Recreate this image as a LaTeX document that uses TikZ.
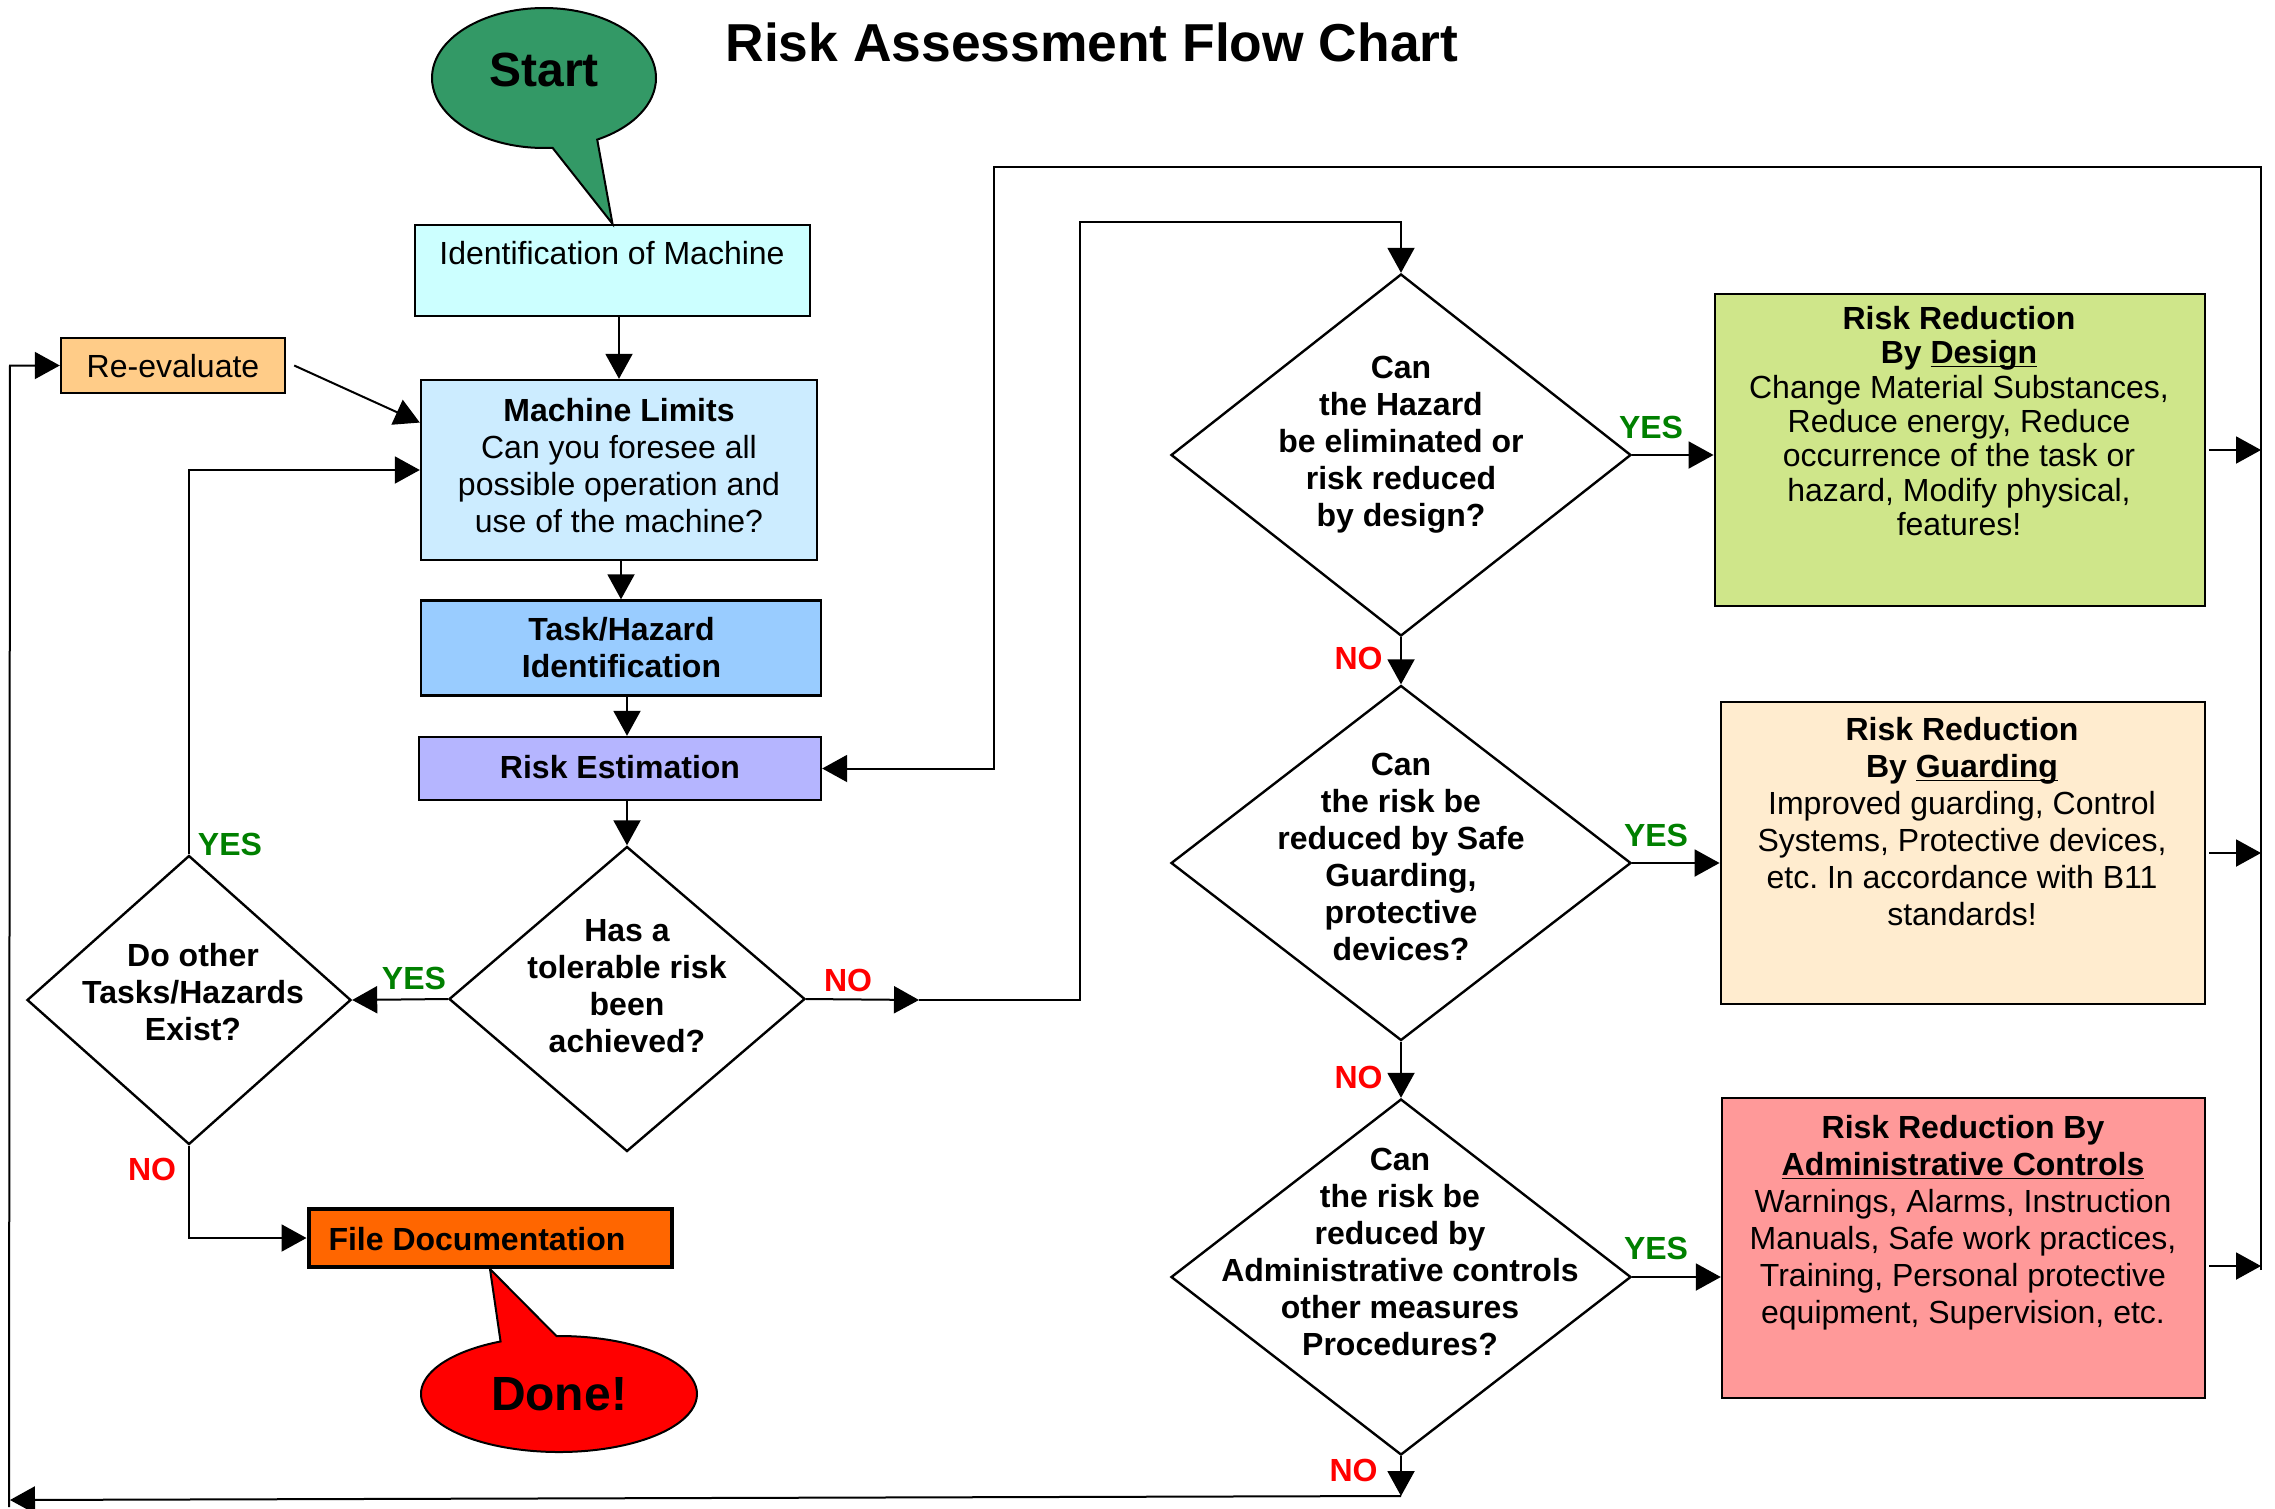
\documentclass[tikz,border=0pt]{standalone}
\usepackage{fontspec}
\setmainfont{Liberation Sans}
\usetikzlibrary{arrows.meta,shapes.geometric,shapes.callouts,calc}
\definecolor{startgreen}{RGB}{51,153,102}
\definecolor{identc}{RGB}{204,255,255}
\definecolor{mlc}{RGB}{204,236,255}
\definecolor{taskc}{RGB}{153,204,255}
\definecolor{rec}{RGB}{181,181,255}
\definecolor{reevalc}{RGB}{255,204,136}
\definecolor{filec}{RGB}{255,102,0}
\definecolor{designc}{RGB}{207,230,138}
\definecolor{guardc}{RGB}{255,236,207}
\definecolor{adminc}{RGB}{255,153,153}
\definecolor{yesgreen}{RGB}{0,128,0}
\newcommand{\myul}[1]{\underline{\smash{#1}}}
\frenchspacing
\begin{document}
\frenchspacing
\begin{tikzpicture}[x=0.5pt,y=-0.5pt,
  arr/.style={-{Triangle[length=12.5pt,width=13.5pt]},line width=1pt},
  box/.style={draw,line width=1.2pt,inner sep=0pt},
  dia/.style={draw,diamond,line width=1.2pt,inner sep=0pt},
  txt/.style={align=center,font=\fontsize{16}{18.5}\selectfont},
  btxt/.style={align=center,font=\fontsize{16}{18.5}\selectfont\bfseries},
  yeslab/.style={text=yesgreen,font=\fontsize{16}{18}\selectfont\bfseries},
  nolab/.style={text=red,font=\fontsize{16}{18}\selectfont\bfseries},
  big/.style={font=\fontsize{24}{26}\selectfont\bfseries}
]
\useasboundingbox (0,0) rectangle (2275,1509);

% title
\node[font=\fontsize{26.7}{30}\selectfont\bfseries] (title) at (1092,42) {Risk Assessment Flow Chart};

% left column boxes
\node[box,fill=identc,minimum width=197.5pt,minimum height=45.5pt] (ident) at (612.5,270.5) {};
\node[txt] (identt) at (612,253) {Identification of Machine};
\node[box,fill=mlc,minimum width=198pt,minimum height=90pt] (ml) at (619,470) {};
\node[txt] (mlt) at (619,466) {\textbf{Machine Limits}\\Can you foresee all\\possible operation and\\use of the machine?};
\node[box,fill=taskc,minimum width=200pt,minimum height=47.5pt] (task) at (621,648) {};
\node[btxt] (taskt) at (621.5,647.5) {Task/Hazard\\Identification};
\node[box,fill=rec,minimum width=201pt,minimum height=31.5pt] (riskest) at (620,768.5) {};
\node[btxt] (riskestt) at (620,767) {Risk Estimation};
\node[box,fill=reevalc,minimum width=112pt,minimum height=27.5pt] (reeval) at (173,365.5) {};
\node[txt] (reevalt) at (173,366) {Re-evaluate};
\node[box,fill=filec,line width=2pt,minimum width=181.5pt,minimum height=29pt] (fd) at (490,1238) {};
\node[btxt] (fdt) at (477,1239) {File Documentation};

% start / done callouts
\node[ellipse callout,draw,fill=startgreen,line width=1pt,inner sep=0pt,
      minimum width=112pt,minimum height=70pt,
      callout absolute pointer={(ident.north)},callout pointer arc=24] (start) at (544,78) {};
\node[big] (startt) at (544,70) {Start};
\node[ellipse callout,draw,fill=red,line width=1pt,inner sep=0pt,
      minimum width=138pt,minimum height=58pt,
      callout absolute pointer={(fd.south)},callout pointer arc=24] (done) at (559,1394) {};
\node[big] (donet) at (559,1394) {Done!};

% diamonds
\node[dia,minimum width=178pt,minimum height=152.5pt] (d0) at (627,999) {};
\node[btxt] (d0t) at (627,986) {Has a\\tolerable risk\\been\\achieved?};
\node[dia,minimum width=162pt,minimum height=144.5pt] (d5) at (189,1000) {};
\node[btxt] (d5t) at (193,992) {Do other\\Tasks/Hazards\\Exist?};
\node[dia,minimum width=230pt,minimum height=181pt] (d1) at (1401,455) {};
\node[btxt] (d1t) at (1401,445) {Can\\the Hazard\\be eliminated or\\risk reduced\\by design?};
\node[dia,minimum width=230pt,minimum height=177.5pt] (d2) at (1401,863) {};
\node[btxt] (d2t) at (1401,857) {Can\\the risk be\\reduced by Safe\\Guarding,\\protective\\devices?};
\node[dia,minimum width=230pt,minimum height=178pt] (d3) at (1401,1277) {};
\node[btxt] (d3t) at (1400,1252) {Can\\the risk be\\reduced by\\Administrative controls\\other measures\\Procedures?};

% right boxes
\node[box,fill=designc,minimum width=245.25pt,minimum height=156pt] (design) at (1960,450) {};
\node[align=center,font=\fontsize{16}{17.2}\selectfont] (designt) at (1959,421) {\textbf{Risk Reduction}\\\textbf{By \myul{Design}}\\Change Material Substances,\\Reduce energy, Reduce\\occurrence of the task or\\hazard, Modify physical,\\features!};
\node[box,fill=guardc,minimum width=242.25pt,minimum height=150.75pt] (guard) at (1963,853) {};
\node[txt] (guardt) at (1962,822) {\textbf{Risk Reduction}\\\textbf{By \myul{Guarding}}\\Improved guarding, Control\\Systems, Protective devices,\\etc. In accordance with B11\\standards!};
\node[box,fill=adminc,minimum width=241.5pt,minimum height=149.75pt] (admin) at (1963.5,1248) {};
\node[txt] (admint) at (1963,1223) {\textbf{Risk Reduction By}\\\textbf{\myul{Administrative Controls}}\\Warnings, Alarms, Instruction\\Manuals, Safe work practices,\\Training, Personal protective\\equipment, Supervision, etc.};

% coordinates
\coordinate (noA) at (919,1000);
\coordinate (bendA) at (1080,1000);
\coordinate (bendB) at (1080,222);
\coordinate (topR) at (2261,167);
\coordinate (topL) at (994,167);
\coordinate (botR) at (2261,1270);
\coordinate (bot1) at (1401,1496);
\coordinate (bot2) at (10,1500);
\coordinate (botL) at (9,1507);
\coordinate (leftT) at (10,365.5);
\coordinate (adminOut) at ($(admin.east)+(0,18)$);

% connectors
\draw[arr] (ml.north |- ident.south) -- (ml.north);
\draw[arr] (ml.south -| task.north) -- (task.north);
\draw[arr] (task.south -| d0.north) -- (d0.north |- riskest.north);
\draw[arr] (riskest.south -| d0.north) -- (d0.north);
\draw[arr] ([xshift=4pt]reeval.east) -- ($(ml.north west)!0.24!(ml.south west)$);
\draw[arr] (d0.west) -- (d5.east);
\draw[arr] (d5.north) |- (ml.west);
\draw[arr] (d5.south) |- (fd.west);
\draw[arr] (d0.east) -- (noA);
\draw[arr] (noA) -- (bendA) -- (bendB) -| (d1.north);
\draw[arr] (botR) -- (topR) -- (topL) |- (riskest.east);
\draw[arr] (d1.east) -- (design.west |- d1.east);
\draw[arr] (d2.east) -- (guard.west |- d2.east);
\draw[arr] (d3.east) -- (admin.west |- d3.east);
\draw[arr] (d1.south) -- (d2.north);
\draw[arr] (d2.south) -- (d3.north);
\draw[arr] (d3.south) -- (bot1);
\draw[arr] (bot1) -- (bot2);
\draw[arr] (botL) -- (leftT) -- (reeval.west);
\draw[arr] ([xshift=1.5pt]design.east) -- (design.east -| topR);
\draw[arr] ([xshift=1.5pt]guard.east) -- (guard.east -| topR);
\draw[arr] ([xshift=1.5pt]adminOut) -- (adminOut -| topR);

% labels
\node[yeslab] (y0) at (414,978.5) {YES};
\node[yeslab] (y5) at (230,844) {YES};
\node[nolab] (n5) at (152,1169) {NO};
\node[nolab] (n0) at (848,980) {NO};
\node[yeslab] (y1) at (1651,427) {YES};
\node[nolab] (n1) at (1358.5,658.5) {NO};
\node[yeslab] (y2) at (1656,835.5) {YES};
\node[nolab] (n2) at (1358.5,1077) {NO};
\node[yeslab] (y3) at (1656,1248) {YES};
\node[nolab] (n3) at (1353.5,1470) {NO};
\end{tikzpicture}
\end{document}
